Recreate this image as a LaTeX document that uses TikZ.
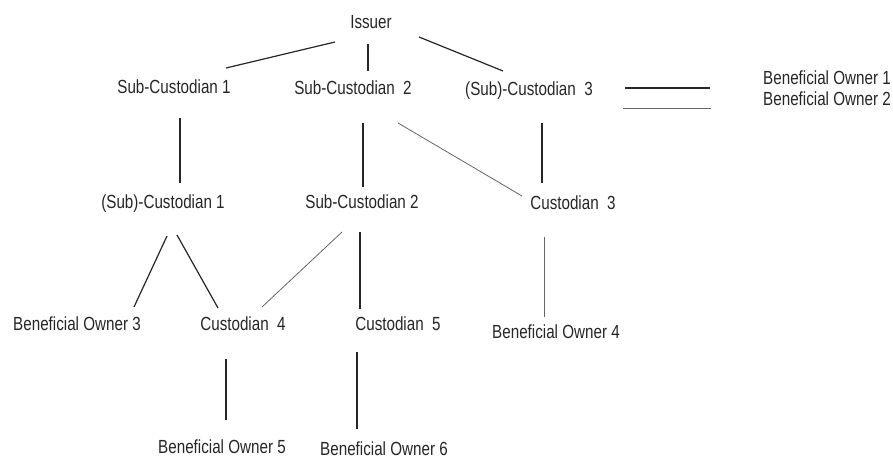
\documentclass[tikz,border=0pt]{standalone}
\usepackage{fontspec}
\setmainfont{Liberation Sans}[FakeStretch=0.8]
\begin{document}
\begin{tikzpicture}[x=1pt,y=-1pt,
  lbl/.style={inner sep=0pt,font=\fontsize{19}{21}\selectfont,text height=0.72em,text depth=0pt,text=black!85},
  conn/.style={line width=1.2pt,black!85},
  thin conn/.style={line width=0.8pt,black!60}]
\useasboundingbox (0,0) rectangle (893,460);
% nodes
\node[lbl] (issuer) at (371,25) {Issuer};
\node[lbl] (sc1) at (174,90) {Sub-Custodian 1};
\node[lbl] (sc2) at (353,91) {Sub-Custodian\ \ 2};
\node[lbl] (sc3) at (529,92) {(Sub)-Custodian\ \ 3};
\node[lbl,anchor=west] (bo1) at (763,81) {Beneficial Owner 1};
\node[lbl,anchor=west] (bo2) at (763,102) {Beneficial Owner 2};
\node[lbl] (ssc1) at (163,205) {(Sub)-Custodian 1};
\node[lbl] (ssc2) at (362,205) {Sub-Custodian 2};
\node[lbl] (c3) at (573,206) {Custodian\ \ 3};
\node[lbl] (bo3) at (77,327) {Beneficial Owner 3};
\node[lbl] (c4) at (243,327) {Custodian\ \ 4};
\node[lbl] (c5) at (398,327) {Custodian\ \ 5};
\node[lbl] (bo4) at (556,335) {Beneficial Owner 4};
\node[lbl] (bo5) at (222,450) {Beneficial Owner 5};
\node[lbl] (bo6) at (384,452) {Beneficial Owner 6};
% connector end points
\coordinate (a1) at (335,42); \coordinate (a2) at (226,68);
\coordinate (b1) at (368,44); \coordinate (b2) at (368,71);
\coordinate (d1) at (419,37); \coordinate (d2) at (503,71);
\coordinate (e1) at (625,88); \coordinate (e2) at (710,88);
\coordinate (f1) at (623,108); \coordinate (f2) at (711,108);
\coordinate (g1) at (180,118); \coordinate (g2) at (180,183);
\coordinate (h1) at (363,123); \coordinate (h2) at (363,187);
\coordinate (i1) at (398,123); \coordinate (i2) at (522,196);
\coordinate (j1) at (542,123); \coordinate (j2) at (542,183);
\coordinate (k1) at (167,236); \coordinate (k2) at (134,307);
\coordinate (l1) at (177,235); \coordinate (l2) at (218,308);
\coordinate (m1) at (342,232); \coordinate (m2) at (262,307);
\coordinate (n1) at (360,232); \coordinate (n2) at (360,309);
\coordinate (o1) at (544,237); \coordinate (o2) at (544,317);
\coordinate (p1) at (226,359); \coordinate (p2) at (226,420);
\coordinate (q1) at (357,352); \coordinate (q2) at (357,429);
% connectors
\draw[conn] (a1) -- (a2);
\draw[conn] (b1) -- (b2);
\draw[conn] (d1) -- (d2);
\draw[conn] (e1) -- (e2);
\draw[thin conn] (f1) -- (f2);
\draw[conn] (g1) -- (g2);
\draw[conn] (h1) -- (h2);
\draw[thin conn] (i1) -- (i2);
\draw[conn] (j1) -- (j2);
\draw[conn] (k1) -- (k2);
\draw[conn] (l1) -- (l2);
\draw[thin conn] (m1) -- (m2);
\draw[conn] (n1) -- (n2);
\draw[thin conn] (o1) -- (o2);
\draw[conn] (p1) -- (p2);
\draw[conn] (q1) -- (q2);
\end{tikzpicture}
\end{document}
